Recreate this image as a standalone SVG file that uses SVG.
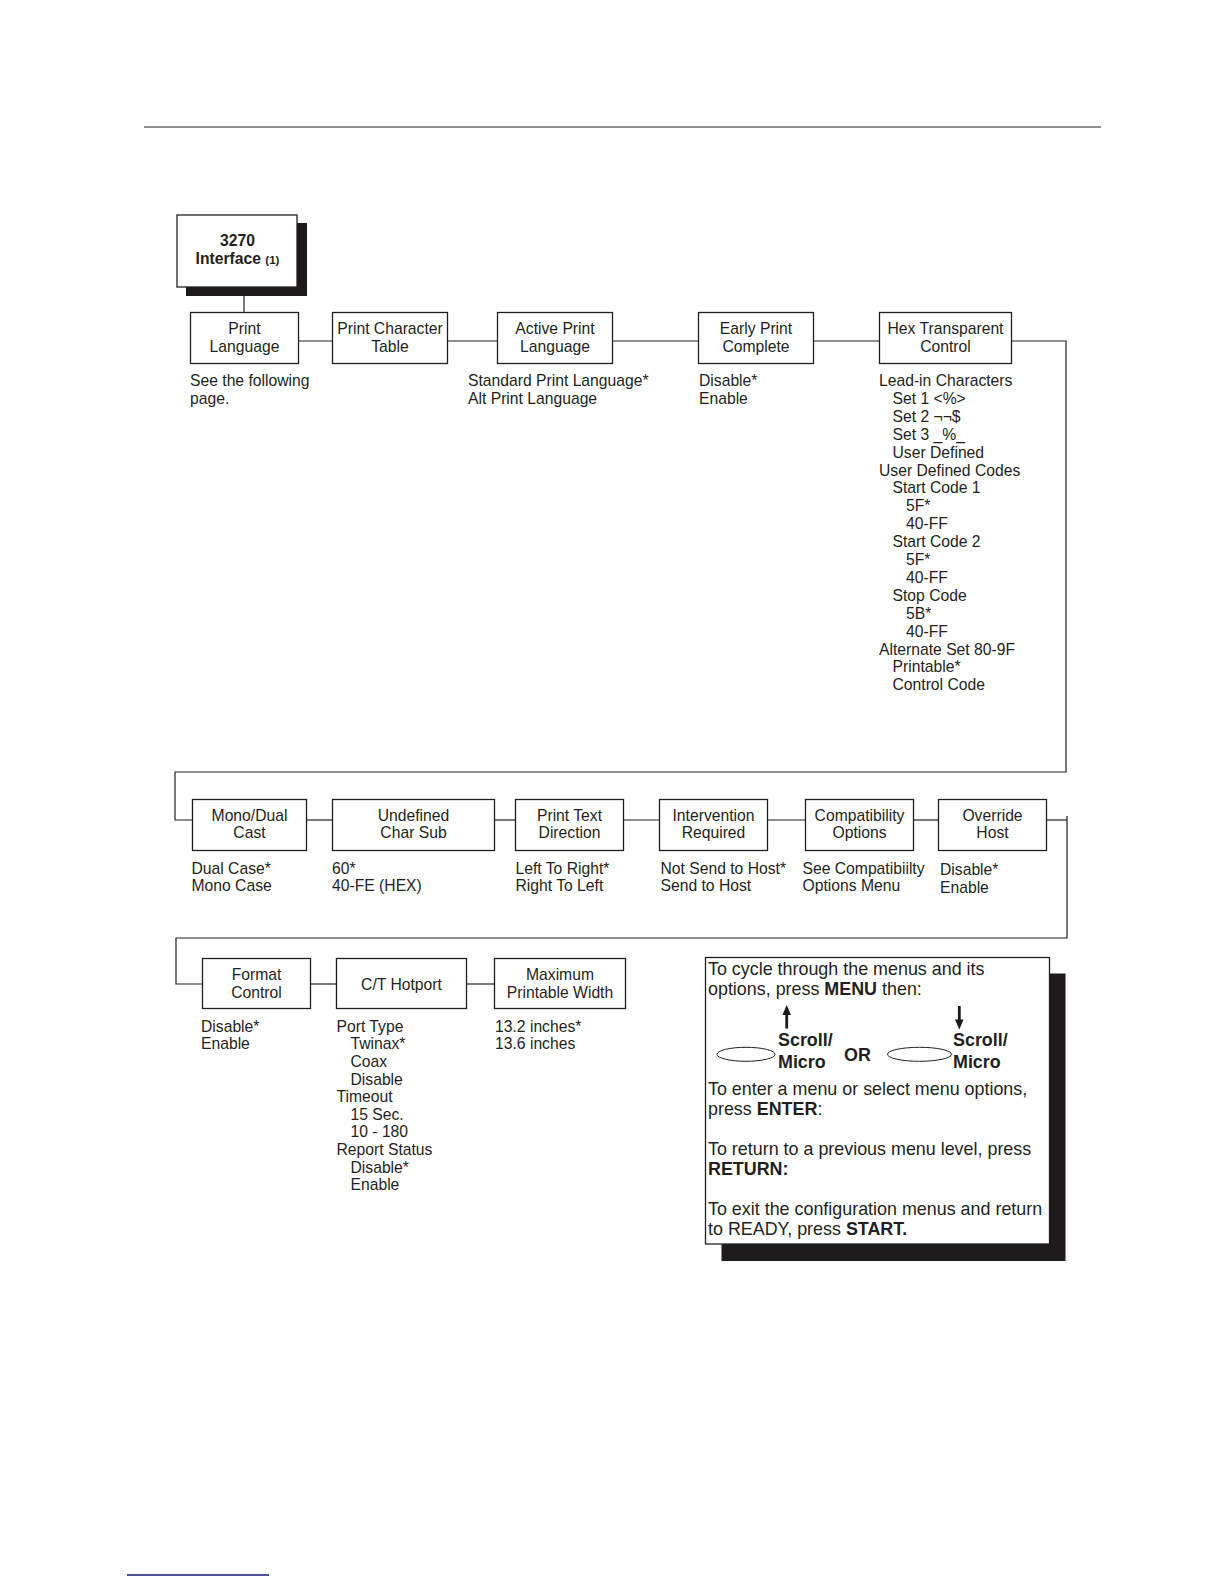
<svg xmlns="http://www.w3.org/2000/svg" width="1224" height="1584" viewBox="0 0 1224 1584">
<style>
text{font-family:"Liberation Sans",Arial,sans-serif;font-size:15.7px;fill:#231f20}
.c{text-anchor:middle}
.b{font-weight:bold}
.box{fill:#fff;stroke:#231f20;stroke-width:1.3}
.shadow{fill:#1c1a1b}
.ln{fill:none;stroke:#231f20;stroke-width:1.2}
.lg{font-size:17.9px}
</style>
<rect width="1224" height="1584" fill="#fff"/>
<line x1="144" y1="127" x2="1101" y2="127" stroke="#231f20" stroke-width="1"/>
<line x1="127" y1="1575" x2="269" y2="1575" stroke="#14146e" stroke-width="1.6"/>

<g id="connectors" class="ln">
<polyline points="244,288 244,312"/>
<polyline points="299,341 332,341"/>
<polyline points="447,341 497,341"/>
<polyline points="612,341 698,341"/>
<polyline points="813,341 879,341"/>
<polyline points="1011,341 1066,341 1066,772 175,772 175,820 192,820"/>
<polyline points="306,820 332,820"/>
<polyline points="494,820 515,820"/>
<polyline points="623,820 659,820"/>
<polyline points="768,820 805,820"/>
<polyline points="913,820 938,820"/>
<polyline points="1046,820 1067,820"/>
<polyline points="1067,816 1067,938 176,938 176,984 202,984"/>
<polyline points="310,984 336,984"/>
<polyline points="467,984 494,984"/>
</g>

<g id="n3270">
<rect class="shadow" x="186" y="223" width="121" height="73"/>
<rect class="box" x="177" y="215" width="120" height="72"/>
<text class="c b" x="237.5" y="246">3270</text>
<text class="c b" x="237.5" y="264">Interface <tspan font-size="11.5px">(1)</tspan></text>
</g>

<g id="print-language">
<rect class="box" x="190.5" y="312.5" width="108" height="51"/>
<text class="c" x="244.5" y="334">Print</text>
<text class="c" x="244.5" y="352">Language</text>
<text x="190" y="386">See the following</text>
<text x="190" y="403.5">page.</text>
</g>

<g id="print-character-table">
<rect class="box" x="332.5" y="312.5" width="115" height="51"/>
<text class="c" x="390" y="334">Print Character</text>
<text class="c" x="390" y="352">Table</text>
</g>

<g id="active-print-language">
<rect class="box" x="497.5" y="312.5" width="115" height="51"/>
<text class="c" x="555" y="334">Active Print</text>
<text class="c" x="555" y="352">Language</text>
<text x="468" y="386">Standard Print Language*</text>
<text x="468" y="403.5">Alt Print Language</text>
</g>

<g id="early-print-complete">
<rect class="box" x="698.5" y="312.5" width="115" height="51"/>
<text class="c" x="756" y="334">Early Print</text>
<text class="c" x="756" y="352">Complete</text>
<text x="699" y="386">Disable*</text>
<text x="699" y="403.5">Enable</text>
</g>

<g id="hex-transparent-control">
<rect class="box" x="879.5" y="312.5" width="132" height="51"/>
<text class="c" x="945.5" y="334">Hex Transparent</text>
<text class="c" x="945.5" y="352">Control</text>
<text x="879" y="386">Lead-in Characters</text>
<text x="892.5" y="403.9">Set 1 &lt;%&gt;</text>
<text x="892.5" y="421.8">Set 2 ¬¬$</text>
<text x="892.5" y="439.7">Set 3 _%_</text>
<text x="892.5" y="457.6">User Defined</text>
<text x="879" y="475.5">User Defined Codes</text>
<text x="892.5" y="493.4">Start Code 1</text>
<text x="906" y="511.3">5F*</text>
<text x="906" y="529.2">40-FF</text>
<text x="892.5" y="547.1">Start Code 2</text>
<text x="906" y="565">5F*</text>
<text x="906" y="582.9">40-FF</text>
<text x="892.5" y="600.8">Stop Code</text>
<text x="906" y="618.7">5B*</text>
<text x="906" y="636.6">40-FF</text>
<text x="879" y="654.5">Alternate Set 80-9F</text>
<text x="892.5" y="672.4">Printable*</text>
<text x="892.5" y="690.3">Control Code</text>
</g>

<g id="mono-dual-cast">
<rect class="box" x="192.5" y="799.5" width="114" height="51"/>
<text class="c" x="249.5" y="821">Mono/Dual</text>
<text class="c" x="249.5" y="838">Cast</text>
<text x="191.5" y="873.5">Dual Case*</text>
<text x="191.5" y="891">Mono Case</text>
</g>

<g id="undefined-char-sub">
<rect class="box" x="332.5" y="799.5" width="162" height="51"/>
<text class="c" x="413.5" y="821">Undefined</text>
<text class="c" x="413.5" y="838">Char Sub</text>
<text x="332" y="873.5">60*</text>
<text x="332" y="891">40-FE (HEX)</text>
</g>

<g id="print-text-direction">
<rect class="box" x="515.5" y="799.5" width="108" height="51"/>
<text class="c" x="569.5" y="821">Print Text</text>
<text class="c" x="569.5" y="838">Direction</text>
<text x="515.5" y="873.5">Left To Right*</text>
<text x="515.5" y="891">Right To Left</text>
</g>

<g id="intervention-required">
<rect class="box" x="659.5" y="799.5" width="108" height="51"/>
<text class="c" x="713.5" y="821">Intervention</text>
<text class="c" x="713.5" y="838">Required</text>
<text x="660.5" y="873.5">Not Send to Host*</text>
<text x="660.5" y="891">Send to Host</text>
</g>

<g id="compatibility-options">
<rect class="box" x="805.5" y="799.5" width="108" height="51"/>
<text class="c" x="859.5" y="821">Compatibility</text>
<text class="c" x="859.5" y="838">Options</text>
<text x="802.5" y="873.5">See Compatibiilty</text>
<text x="802.5" y="891">Options Menu</text>
</g>

<g id="override-host">
<rect class="box" x="938.5" y="799.5" width="108" height="51"/>
<text class="c" x="992.5" y="821">Override</text>
<text class="c" x="992.5" y="838">Host</text>
<text x="940" y="874.5">Disable*</text>
<text x="940" y="892.5">Enable</text>
</g>

<g id="format-control">
<rect class="box" x="202.5" y="958.5" width="108" height="50"/>
<text class="c" x="256.5" y="979.5">Format</text>
<text class="c" x="256.5" y="997.5">Control</text>
<text x="201" y="1031.7">Disable*</text>
<text x="201" y="1049.3">Enable</text>
</g>

<g id="ct-hotport">
<rect class="box" x="336.5" y="958.5" width="130" height="50"/>
<text class="c" x="401.5" y="990">C/T Hotport</text>
<text x="336.5" y="1031.7">Port Type</text>
<text x="350.5" y="1049.3">Twinax*</text>
<text x="350.5" y="1066.9">Coax</text>
<text x="350.5" y="1084.5">Disable</text>
<text x="336.5" y="1102.1">Timeout</text>
<text x="350.5" y="1119.7">15 Sec.</text>
<text x="350.5" y="1137.3">10 - 180</text>
<text x="336.5" y="1154.9">Report Status</text>
<text x="350.5" y="1172.5">Disable*</text>
<text x="350.5" y="1190.1">Enable</text>
</g>

<g id="maximum-printable-width">
<rect class="box" x="494.5" y="958.5" width="131" height="50"/>
<text class="c" x="560" y="980">Maximum</text>
<text class="c" x="560" y="997.5">Printable Width</text>
<text x="495" y="1031.7">13.2 inches*</text>
<text x="495" y="1049.3">13.6 inches</text>
</g>

<g id="legend">
<rect class="shadow" x="721.5" y="973.5" width="344" height="287.5"/>
<rect class="box" x="705.5" y="957.5" width="344" height="286.5"/>
<text class="lg" x="708" y="974.5">To cycle through the menus and its</text>
<text class="lg" x="708" y="994.5">options, press <tspan class="b">MENU</tspan> then:</text>
<line x1="786.7" y1="1013" x2="786.7" y2="1028.5" stroke="#1c1a1b" stroke-width="2.8"/>
<polygon points="786.7,1005 782.4,1015 791,1015" fill="#1c1a1b"/>
<line x1="959.3" y1="1006" x2="959.3" y2="1021" stroke="#1c1a1b" stroke-width="2.8"/>
<polygon points="959.3,1029.5 955,1019.5 963.6,1019.5" fill="#1c1a1b"/>
<ellipse cx="746" cy="1054.3" rx="29" ry="7" fill="none" stroke="#231f20" stroke-width="1"/>
<ellipse cx="919.5" cy="1054.3" rx="32" ry="7" fill="none" stroke="#231f20" stroke-width="1"/>
<text class="lg b" x="778" y="1046">Scroll/</text>
<text class="lg b" x="778" y="1067.5">Micro</text>
<text class="lg b" x="844" y="1060.5">OR</text>
<text class="lg b" x="953" y="1046">Scroll/</text>
<text class="lg b" x="953" y="1067.5">Micro</text>
<text class="lg" x="708" y="1094.5">To enter a menu or select menu options,</text>
<text class="lg" x="708" y="1114.5">press <tspan class="b">ENTER</tspan>:</text>
<text class="lg" x="708" y="1154.5">To return to a previous menu level, press</text>
<text class="lg b" x="708" y="1174.5">RETURN:</text>
<text class="lg" x="708" y="1215">To exit the configuration menus and return</text>
<text class="lg" x="708" y="1235">to READY, press <tspan class="b">START.</tspan></text>
</g>
</svg>
